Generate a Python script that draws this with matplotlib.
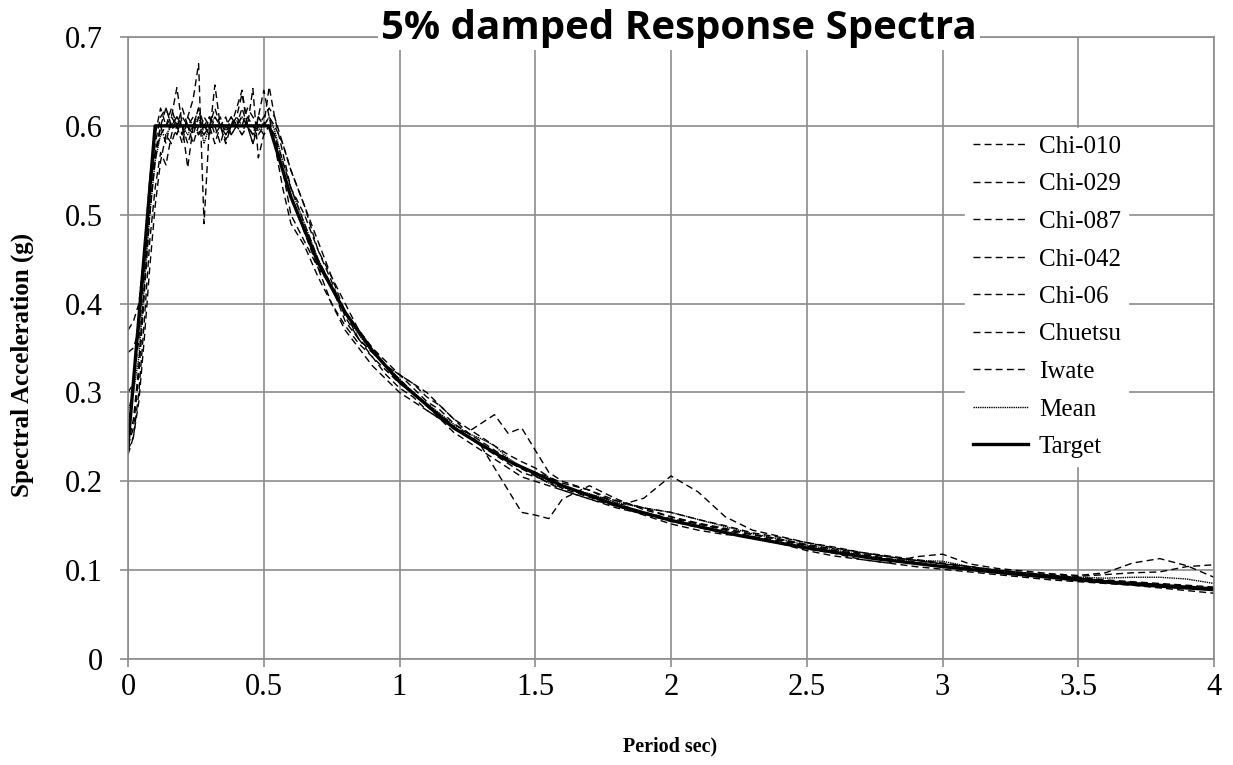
import numpy as np
import matplotlib
matplotlib.use("Agg")
import matplotlib.pyplot as plt

plt.rcParams['font.family'] = ['Liberation Serif', 'DejaVu Serif']

# periods (sec) shared by the records and the mean
periods = [0.00, 0.02, 0.04, 0.06, 0.08, 0.10, 0.12, 0.14, 0.16, 0.18,
           0.20, 0.22, 0.24, 0.26, 0.28, 0.30, 0.32, 0.34, 0.36, 0.38,
           0.40, 0.42, 0.44, 0.46, 0.48, 0.50, 0.52, 0.54,
           0.57, 0.60, 0.65, 0.70, 0.75, 0.80, 0.85, 0.90, 0.95, 1.00,
           1.05, 1.10, 1.15, 1.20, 1.25, 1.30, 1.35, 1.40, 1.45, 1.50, 1.55, 1.60,
           1.70, 1.80, 1.90, 2.00, 2.10, 2.20, 2.30, 2.40, 2.50, 2.60,
           2.70, 2.80, 2.90, 3.00, 3.10, 3.20, 3.30, 3.40, 3.50, 3.60,
           3.70, 3.80, 3.90, 4.00]

chi010 = [0.24, 0.27, 0.33, 0.42, 0.50, 0.56, 0.60, 0.58, 0.61, 0.60,
          0.58, 0.61, 0.63, 0.67, 0.49, 0.60, 0.62, 0.60, 0.59, 0.61,
          0.60, 0.62, 0.60, 0.59, 0.61, 0.60, 0.60, 0.59,
          0.56, 0.53, 0.49, 0.45, 0.42, 0.39, 0.37, 0.35, 0.33, 0.32,
          0.305, 0.29, 0.28, 0.265, 0.255, 0.245, 0.235, 0.225, 0.215, 0.21, 0.205, 0.198,
          0.19, 0.178, 0.17, 0.16, 0.152, 0.146, 0.14, 0.134, 0.128, 0.122,
          0.118, 0.113, 0.109, 0.105, 0.102, 0.099, 0.096, 0.093, 0.091, 0.088,
          0.086, 0.084, 0.082, 0.080]

chi029 = [0.37, 0.38, 0.40, 0.46, 0.54, 0.59, 0.62, 0.60, 0.62, 0.60,
          0.62, 0.60, 0.61, 0.59, 0.60, 0.61, 0.59, 0.60, 0.58, 0.60,
          0.62, 0.64, 0.60, 0.58, 0.61, 0.64, 0.61, 0.58,
          0.55, 0.50, 0.47, 0.44, 0.42, 0.38, 0.36, 0.345, 0.33, 0.315,
          0.30, 0.285, 0.27, 0.26, 0.255, 0.265, 0.275, 0.254, 0.26, 0.235, 0.21, 0.20,
          0.19, 0.175, 0.165, 0.158, 0.152, 0.145, 0.138, 0.133, 0.127, 0.121,
          0.117, 0.112, 0.108, 0.105, 0.101, 0.098, 0.095, 0.092, 0.090, 0.088,
          0.086, 0.083, 0.081, 0.079]

chi087 = [0.345, 0.35, 0.37, 0.45, 0.53, 0.57, 0.59, 0.60, 0.61, 0.643,
          0.60, 0.553, 0.60, 0.62, 0.60, 0.59, 0.646, 0.60, 0.60, 0.61,
          0.60, 0.59, 0.61, 0.60, 0.59, 0.60, 0.61, 0.60,
          0.58, 0.55, 0.51, 0.46, 0.43, 0.40, 0.37, 0.35, 0.335, 0.32,
          0.31, 0.295, 0.285, 0.27, 0.255, 0.24, 0.215, 0.19, 0.165, 0.162, 0.158, 0.18,
          0.195, 0.18, 0.168, 0.16, 0.153, 0.147, 0.14, 0.135, 0.129, 0.124,
          0.119, 0.115, 0.111, 0.107, 0.103, 0.10, 0.097, 0.094, 0.092, 0.089,
          0.087, 0.085, 0.083, 0.081]

chi042 = [0.23, 0.25, 0.30, 0.38, 0.47, 0.53, 0.57, 0.556, 0.59, 0.61,
          0.60, 0.58, 0.60, 0.59, 0.61, 0.60, 0.58, 0.60, 0.61, 0.59,
          0.60, 0.61, 0.60, 0.642, 0.564, 0.59, 0.60, 0.58,
          0.53, 0.49, 0.465, 0.43, 0.40, 0.375, 0.355, 0.34, 0.325, 0.31,
          0.30, 0.285, 0.275, 0.262, 0.25, 0.24, 0.23, 0.22, 0.21, 0.205, 0.20, 0.192,
          0.182, 0.172, 0.181, 0.206, 0.188, 0.16, 0.145, 0.138, 0.131, 0.125,
          0.12, 0.115, 0.111, 0.107, 0.104, 0.10, 0.097, 0.094, 0.091, 0.088,
          0.086, 0.084, 0.082, 0.080]

chi06 = [0.24, 0.26, 0.32, 0.41, 0.50, 0.57, 0.60, 0.62, 0.60, 0.59,
         0.61, 0.60, 0.59, 0.61, 0.60, 0.59, 0.61, 0.60, 0.584, 0.60,
         0.61, 0.636, 0.60, 0.59, 0.61, 0.60, 0.644, 0.61,
         0.57, 0.53, 0.50, 0.46, 0.425, 0.385, 0.36, 0.34, 0.32, 0.305,
         0.295, 0.28, 0.27, 0.26, 0.25, 0.24, 0.232, 0.222, 0.214, 0.206, 0.198, 0.19,
         0.18, 0.17, 0.163, 0.155, 0.148, 0.142, 0.136, 0.13, 0.124, 0.119,
         0.112, 0.108, 0.115, 0.118, 0.107, 0.102, 0.099, 0.096, 0.094, 0.097,
         0.108, 0.113, 0.105, 0.092]

chuetsu = [0.30, 0.31, 0.36, 0.44, 0.52, 0.58, 0.61, 0.62, 0.60, 0.61,
           0.59, 0.61, 0.60, 0.62, 0.59, 0.60, 0.60, 0.61, 0.59, 0.60,
           0.61, 0.60, 0.62, 0.61, 0.60, 0.61, 0.62, 0.61,
           0.58, 0.55, 0.51, 0.47, 0.43, 0.39, 0.36, 0.345, 0.33, 0.32,
           0.31, 0.30, 0.285, 0.27, 0.26, 0.25, 0.24, 0.23, 0.222, 0.215, 0.205, 0.195,
           0.185, 0.178, 0.17, 0.165, 0.157, 0.15, 0.142, 0.137, 0.131, 0.126,
           0.12, 0.116, 0.112, 0.108, 0.104, 0.10, 0.097, 0.095, 0.093, 0.095,
           0.097, 0.098, 0.104, 0.106]

iwate = [0.235, 0.25, 0.29, 0.36, 0.44, 0.51, 0.56, 0.59, 0.58, 0.60,
         0.59, 0.60, 0.58, 0.60, 0.59, 0.61, 0.60, 0.58, 0.60, 0.59,
         0.60, 0.59, 0.60, 0.58, 0.60, 0.59, 0.60, 0.59,
         0.55, 0.52, 0.48, 0.44, 0.40, 0.37, 0.35, 0.33, 0.315, 0.30,
         0.29, 0.28, 0.27, 0.255, 0.245, 0.235, 0.225, 0.215, 0.205, 0.20, 0.195, 0.19,
         0.18, 0.172, 0.162, 0.152, 0.145, 0.14, 0.138, 0.13, 0.122, 0.116,
         0.112, 0.108, 0.104, 0.101, 0.098, 0.095, 0.092, 0.089, 0.087, 0.085,
         0.083, 0.08, 0.077, 0.074]

mean = [0.28, 0.30, 0.34, 0.42, 0.50, 0.56, 0.59, 0.59, 0.60, 0.61,
        0.60, 0.59, 0.60, 0.61, 0.58, 0.60, 0.61, 0.60, 0.595, 0.60,
        0.605, 0.61, 0.60, 0.60, 0.595, 0.60, 0.61, 0.595,
        0.56, 0.53, 0.49, 0.45, 0.42, 0.39, 0.365, 0.345, 0.33, 0.315,
        0.30, 0.288, 0.276, 0.264, 0.254, 0.248, 0.24, 0.226, 0.216, 0.207, 0.198, 0.193,
        0.186, 0.176, 0.17, 0.165, 0.157, 0.149, 0.141, 0.135, 0.128, 0.123,
        0.117, 0.112, 0.111, 0.11, 0.104, 0.100, 0.097, 0.094, 0.092, 0.091,
        0.092, 0.092, 0.09, 0.085]

# design target spectrum
target_periods = [0.0, 0.1, 0.52, 0.6, 0.7, 0.8, 0.9, 1.0, 1.2, 1.4, 1.6, 1.8,
                  2.0, 2.25, 2.5, 2.75, 3.0, 3.25, 3.5, 3.75, 4.0]
target = [0.24, 0.60, 0.60, 0.52, 0.446, 0.39, 0.347, 0.312, 0.26, 0.223, 0.195,
          0.173, 0.156, 0.139, 0.125, 0.113, 0.104, 0.096, 0.089, 0.083, 0.078]

records = [("Chi-010", chi010), ("Chi-029", chi029), ("Chi-087", chi087),
           ("Chi-042", chi042), ("Chi-06", chi06), ("Chuetsu", chuetsu),
           ("Iwate", iwate)]

fig = plt.figure(figsize=(12.33, 7.65), dpi=100)
ax = fig.add_axes([128/1233, 1 - 659/765, 1086/1233, 622/765])

for name, vals in records:
    ax.plot(periods, vals, color='black', lw=1.0, dashes=(5, 3), label=name)
ax.plot(periods, mean, color='black', lw=1.0, dashes=(1, 0.6), label='Mean')
ax.plot(target_periods, target, color='black', lw=2.4, label='Target')

ax.set_xlim(0, 4)
ax.set_ylim(0, 0.7)
ax.set_xticks(np.arange(0, 4.01, 0.5))
ax.set_xticklabels(['0', '0.5', '1', '1.5', '2', '2.5', '3', '3.5', '4'])
ax.set_yticks(np.arange(0, 0.71, 0.1))
ax.set_yticklabels(['0', '0.1', '0.2', '0.3', '0.4', '0.5', '0.6', '0.7'])
ax.grid(True, color='#8c8c8c', lw=1.2)
ax.set_axisbelow(True)
for s in ax.spines.values():
    s.set_color('#8c8c8c')
    s.set_linewidth(1.2)
ax.tick_params(axis='both', colors='#8c8c8c', labelcolor='black', labelsize=22,
               length=6, width=1.2, direction='out')
ax.tick_params(axis='y', pad=12)
ax.tick_params(axis='x', pad=4)

leg = ax.legend(loc='upper left', bbox_to_anchor=(965/1233, 1 - 128/765),
                bbox_transform=fig.transFigure, fontsize=18, frameon=True,
                fancybox=False, framealpha=1, edgecolor='white',
                handlelength=2.2, handletextpad=0.45, labelspacing=0.6,
                borderpad=0.3, borderaxespad=0)

fig.text(679/1233, 1 - 28/765, '5% damped Response Spectra', family='Open Sans',
         weight='bold', fontsize=29, ha='center', va='center',
         bbox=dict(facecolor='white', edgecolor='none', pad=2))
fig.text(22/1233, 1 - 365/765, 'Spectral Acceleration (g)', rotation=90,
         weight='bold', fontsize=18, ha='center', va='center')
fig.text(670/1233, 1 - 746/765, 'Period sec)', weight='bold', fontsize=14.5,
         ha='center', va='center')

fig.savefig('out.png', dpi=100)
